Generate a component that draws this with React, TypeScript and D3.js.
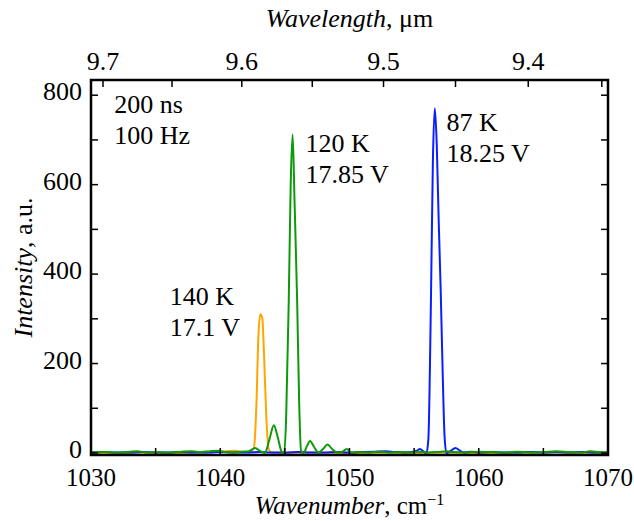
import React from "react";
import * as d3 from "d3";

// Wavenumber (cm^-1) / intensity (a.u.) samples
const orangeNu = [1030, 1032, 1034, 1036, 1038, 1039.5, 1040.5, 1041.2, 1041.8, 1042.3, 1042.6, 1042.8, 1042.95, 1043.1, 1043.25, 1043.4, 1043.55, 1043.75, 1044, 1045, 1047, 1050, 1053, 1055, 1057, 1060, 1065, 1070];
const orangeI = [1, 0, 1, 0, 1, 2, 4, 5, 2, 3, 10, 110, 260, 310, 302, 210, 90, 8, 1, 0, 1, 0, 1, 0, 1, 0, 1, 0];

const greenNu = [1030, 1031, 1032, 1033, 1033.6, 1034.3, 1035, 1036, 1037, 1037.8, 1038.5, 1039.2, 1039.8, 1040.4, 1041, 1041.6, 1042.2, 1042.7, 1043.1, 1043.45, 1043.8, 1044.15, 1044.45, 1044.75, 1044.95, 1045.1, 1045.3, 1045.45, 1045.6, 1045.75, 1045.95, 1046.1, 1046.25, 1046.45, 1046.7, 1046.95, 1047.25, 1047.6, 1047.95, 1048.3, 1048.65, 1049.05, 1049.45, 1049.8, 1050.1, 1050.8, 1051.5, 1052.3, 1053, 1054, 1054.8, 1055.3, 1056, 1056.8, 1057.5, 1058, 1059, 1060, 1061, 1062, 1063, 1064, 1065, 1066, 1067, 1068, 1068.6, 1069.3, 1070];
const greenI = [1, 2, 1, 3, 4, 1, 2, 1, 3, 4, 2, 4, 5, 2, 1, 3, 4, 11, 4, 0, 30, 62, 35, 3, 0, 80, 340, 600, 712, 560, 340, 120, 5, 0, 15, 27, 14, 1, 9, 19, 9, 1, 3, 9, 1, 2, 1, 3, 1, 2, 1, 3, 1, 2, 4, 2, 1, 3, 2, 1, 3, 1, 2, 4, 2, 1, 4, 2, 1];

const blueNu = [1030, 1031, 1032, 1033, 1034, 1035, 1036, 1037, 1038, 1039, 1040, 1041, 1042, 1043, 1044, 1045, 1046, 1047, 1048, 1049, 1050, 1051, 1052, 1052.8, 1053.5, 1054.2, 1054.8, 1055.2, 1055.45, 1055.7, 1055.95, 1056.1, 1056.3, 1056.45, 1056.6, 1056.75, 1056.9, 1057.05, 1057.2, 1057.35, 1057.5, 1057.8, 1058.2, 1058.55, 1058.9, 1059.4, 1060, 1061, 1062, 1063, 1064, 1065, 1066, 1067, 1068, 1069, 1070];
const blueI = [1, 2, 1, 1, 2, 1, 1, 2, 1, 1, 2, 1, 1, 2, 1, 1, 2, 1, 1, 2, 1, 2, 3, 4, 2, 1, 2, 5, 9, 4, 0, 30, 340, 650, 771, 690, 520, 370, 190, 40, 0, 4, 11, 5, 1, 3, 1, 2, 1, 1, 2, 1, 2, 1, 2, 1, 1];

const seriesNames = ["140 K", "87 K", "120 K"];
const seriesColors = ["#ffa500", "#0a1eff", "#0a9a0a"];
const seriesNu = [orangeNu, blueNu, greenNu];
const seriesI = [orangeI, blueI, greenI];

const xTicks = [1030, 1040, 1050, 1060, 1070];
const xMinor = [1035, 1045, 1055, 1065];
const yTicks = [0, 200, 400, 600, 800];
const yMinor = [100, 300, 500, 700];
const wlTicks = [9.7, 9.6, 9.5, 9.4];
const wlMinor = [9.65, 9.55, 9.45, 9.35];

const annotations = [
  { lines: ["200 ns", "100 Hz"], nu: 1031.8, v: 760 },
  { lines: ["120 K", "17.85 V"], nu: 1046.6, v: 672 },
  { lines: ["87 K", "18.25 V"], nu: 1057.5, v: 720 },
  { lines: ["140 K", "17.1 V"], nu: 1036.1, v: 330 },
];

const W = 634, H = 521;
const L = 91, R = 608, T = 80, B = 455;
const FONT = "Liberation Serif, Tinos, Times New Roman, serif";
const FS = 26;
const FSB = 25;

export default function App() {
  const x = d3.scaleLinear().domain([1030, 1070]).range([L, R]);
  const y = d3.scaleLinear().domain([-4.5, 834]).range([B, T]);
  const tl = 7;

  const line = d3
    .line<[number, number]>()
    .x((d) => x(d[0]))
    .y((d) => y(d[1]))
    .curve(d3.curveMonotoneX);

  const ts: React.CSSProperties = { fontFamily: FONT };

  return (
    <svg width={W} height={H} style={{ position: "absolute", left: 0, top: 0, background: "#fff", fontFamily: FONT }}>
      <defs>
        <clipPath id="plot">
          <rect x={L} y={T} width={R - L} height={B - T} />
        </clipPath>
      </defs>
      <rect x={0} y={0} width={W} height={H} fill="#fff" />
      <g clipPath="url(#plot)">
        {seriesNames.map((name, i) => (
          <path
            key={name}
            d={line(seriesNu[i].map((n, j) => [n, seriesI[i][j]] as [number, number])) || ""}
            fill="none"
            stroke={seriesColors[i]}
            strokeWidth={2}
            strokeLinejoin="round"
          />
        ))}
      </g>
      {/* ticks */}
      <g stroke="#000" strokeWidth={1.5}>
        {[...xTicks, ...xMinor].map((t) => (
          <line key={"b" + t} x1={x(t)} x2={x(t)} y1={B} y2={B - tl} />
        ))}
        {[...wlTicks, ...wlMinor].map((t) => (
          <line key={"t" + t} x1={x(10000 / t)} x2={x(10000 / t)} y1={T} y2={T + tl} />
        ))}
        {[...yTicks, ...yMinor].map((t) => (
          <g key={"y" + t}>
            <line x1={L} x2={L + tl} y1={y(t)} y2={y(t)} />
            <line x1={R} x2={R - tl} y1={y(t)} y2={y(t)} />
          </g>
        ))}
      </g>
      <rect x={L} y={T} width={R - L} height={B - T} fill="none" stroke="#000" strokeWidth={2.5} />
      {/* tick labels */}
      <g fill="#000">
        {xTicks.map((t) => (
          <text key={"bl" + t} style={ts} fontSize={FSB} x={x(t)} y={486} textAnchor="middle">
            {t}
          </text>
        ))}
        {wlTicks.map((t) => (
          <text key={"tl" + t} style={ts} fontSize={FS} x={x(10000 / t)} y={70} textAnchor="middle">
            {t.toFixed(1)}
          </text>
        ))}
        {yTicks.map((t) => (
          <text key={"yl" + t} style={ts} fontSize={FS} x={L - 9} y={y(t) + 5} textAnchor="end">
            {t}
          </text>
        ))}
      </g>
      {/* axis titles */}
      <text style={ts} x={(L + R) / 2} y={514} textAnchor="middle" fontSize={FSB}>
        <tspan fontStyle="italic">Wavenumber</tspan>, cm
        <tspan fontSize={16} dy={-9}>−1</tspan>
      </text>
      <text style={ts} x={(L + R) / 2} y={27} textAnchor="middle" fontSize={FS}>
        <tspan fontStyle="italic">Wavelength</tspan>, μm
      </text>
      <text style={ts} transform={`translate(32, ${(T + B) / 2}) rotate(-90)`} textAnchor="middle" fontSize={FS}>
        <tspan fontStyle="italic">Intensity</tspan>, a.u.
      </text>
      {/* annotations */}
      <g fontSize={FS}>
        {annotations.map((a, i) => (
          <text key={i} style={ts} x={x(a.nu)} y={y(a.v)}>
            {a.lines.map((s, k) => (
              <tspan key={k} x={x(a.nu)} dy={k === 0 ? 0 : 31}>
                {s}
              </tspan>
            ))}
          </text>
        ))}
      </g>
    </svg>
  );
}
